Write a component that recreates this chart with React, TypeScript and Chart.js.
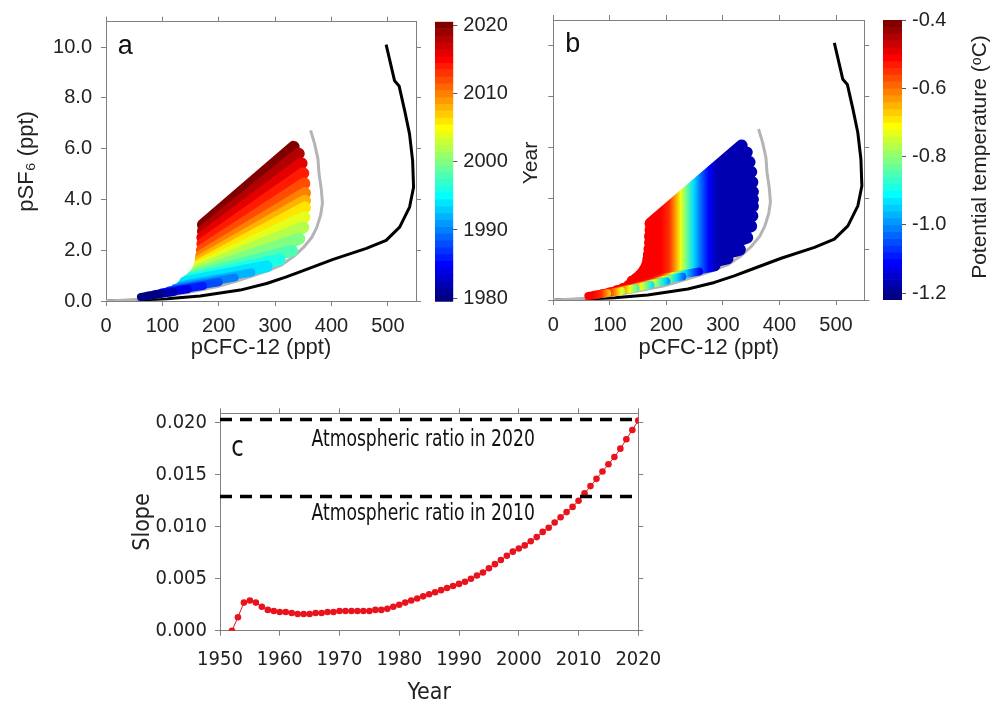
import React, { useEffect, useRef } from 'react';
import { Chart, registerables } from 'chart.js';

Chart.register(...registerables);

// ---------------- data ----------------
// Panels a & b: the sample cloud, drawn as one band per year (start and end of each band, pCFC-12 ppt / pSF6 ppt)
const bandYears = [1980, 1982, 1984, 1986, 1988, 1990, 1992, 1994, 1996, 1998, 2000, 2002, 2004, 2006, 2008, 2010, 2012, 2014, 2016, 2018, 2020];
const bandStartCFC = [62, 73, 86, 99, 112, 123, 132, 140, 147, 153, 158, 162, 165, 167, 168, 169, 170, 171, 171, 172, 172];
const bandStartSF6 = [0.16, 0.21, 0.27, 0.34, 0.42, 0.51, 0.62, 0.73, 0.84, 0.95, 1.07, 1.2, 1.33, 1.45, 1.6, 1.78, 2.0, 2.25, 2.5, 2.75, 3.0];
const bandEndCFC = [95, 120, 145, 172, 200, 228, 258, 285, 308, 330, 343, 350, 352, 353, 353, 353, 352, 350, 347, 342, 333];
const bandEndSF6 = [0.27, 0.35, 0.46, 0.59, 0.74, 0.92, 1.12, 1.36, 1.63, 1.98, 2.45, 2.9, 3.3, 3.68, 3.95, 4.25, 4.63, 5.03, 5.42, 5.8, 6.07];

// Panel b: potential temperature (°C) across the cloud, by pCFC-12 position (shifted for the deepest bands)
const tempAtCFC = [190, 205, 215, 225, 235, 248, 262, 275, 290];
const tempValues = [-0.5, -0.54, -0.62, -0.72, -0.82, -0.94, -1.04, -1.12, -1.18];
const bandTempShift = [-120, -105, -90, -70, -50, -30, -15, 0, 0, 0, 0, 0, 0, 0, 0, 0, 0, 0, 0, 0, 0];

// Grey curve
const grayCFC = [0, 49, 108, 137, 167, 196, 226, 255, 285, 310, 332, 350, 365, 374, 381, 384, 382, 378, 376, 370, 363];
const graySF6 = [0, 0.05, 0.2, 0.3, 0.43, 0.56, 0.75, 0.95, 1.18, 1.4, 1.74, 2.1, 2.5, 2.9, 3.4, 3.85, 4.4, 5.0, 5.6, 6.2, 6.72];

// Black curve (atmospheric history)
const atmCFC = [3, 49, 108, 167, 238, 285, 320, 344, 403, 462, 497, 521, 538.6, 545.7, 544, 538.5, 530, 520, 512, 497];
const atmSF6 = [0, 0.03, 0.09, 0.2, 0.43, 0.69, 0.95, 1.15, 1.64, 2.07, 2.39, 2.91, 3.7, 4.48, 5.53, 6.58, 7.49, 8.47, 8.67, 10.1];

// Panel c
const slopeYears = [1952, 1953, 1954, 1955, 1956, 1957, 1958, 1959, 1960, 1961, 1962, 1963, 1964, 1965, 1966, 1967, 1968, 1969, 1970, 1971, 1972, 1973, 1974, 1975, 1976, 1977, 1978, 1979, 1980, 1981, 1982, 1983, 1984, 1985, 1986, 1987, 1988, 1989, 1990, 1991, 1992, 1993, 1994, 1995, 1996, 1997, 1998, 1999, 2000, 2001, 2002, 2003, 2004, 2005, 2006, 2007, 2008, 2009, 2010, 2011, 2012, 2013, 2014, 2015, 2016, 2017, 2018, 2019, 2020];
const slopeValues = [0.0, 0.0013, 0.0027, 0.0029, 0.0027, 0.0023, 0.002, 0.0019, 0.0018, 0.0018, 0.0017, 0.0016, 0.0016, 0.0016, 0.0017, 0.0017, 0.0018, 0.0018, 0.0019, 0.0019, 0.0019, 0.0019, 0.0019, 0.0019, 0.002, 0.002, 0.0021, 0.0023, 0.0025, 0.0027, 0.0029, 0.0031, 0.0033, 0.0035, 0.0037, 0.0039, 0.0041, 0.0043, 0.0045, 0.0047, 0.005, 0.0053, 0.0056, 0.006, 0.0064, 0.0068, 0.0072, 0.0076, 0.0079, 0.0082, 0.0086, 0.009, 0.0095, 0.0099, 0.0104, 0.0109, 0.0114, 0.0119, 0.0125, 0.0132, 0.0139, 0.0146, 0.0153, 0.016, 0.0167, 0.0175, 0.0184, 0.0193, 0.0202];
const ratioLabels = ['Atmospheric ratio in 2020', 'Atmospheric ratio in 2010'];
const ratioValues = [0.0203, 0.0129];

// Ticks
const cfcTicks = [0, 100, 200, 300, 400, 500];
const sf6Ticks = [0, 2, 4, 6, 8, 10];
const yearBarTicks = [1980, 1990, 2000, 2010, 2020];
const tempBarTicks = [-1.2, -1.0, -0.8, -0.6, -0.4];
const slopeXTicks = [1950, 1960, 1970, 1980, 1990, 2000, 2010, 2020];
const slopeYTicks = [0, 0.005, 0.01, 0.015, 0.02];

// ---------------- style ----------------
const FONT = "'Liberation Sans', Arial, Helvetica, sans-serif";
const NARROW = "'Liberation Sans Narrow', 'Arial Narrow', 'DejaVu Sans Condensed', 'Liberation Sans', Arial, sans-serif";
const TEXT = '#222222';
const AXIS = '#808080';
const RED = '#e8131c';
const T_MIN = -1.22;
const T_MAX = -0.4;

function jet(t: number): string {
  const c = (v: number) => Math.max(0, Math.min(1, v));
  const r = c(1.5 - Math.abs(4 * t - 3));
  const g = c(1.5 - Math.abs(4 * t - 2));
  const b = c(1.5 - Math.abs(4 * t - 1));
  return `rgb(${Math.round(r * 255)},${Math.round(g * 255)},${Math.round(b * 255)})`;
}
const yearColor = (y: number) => jet((y - 1980) / 40);
const tempColor = (T: number) => jet((T - T_MIN) / (T_MAX - T_MIN));

const setTicks = (vals: number[]) => (s: any) => {
  s.ticks = vals.map((v) => ({ value: v }));
};

function makeAnnot(items: any[]) {
  return {
    id: 'annot',
    afterDatasetsDraw(chart: any) {
      const ctx = chart.ctx;
      items.forEach((it) => {
        ctx.save();
        ctx.font = it.font;
        ctx.fillStyle = it.color || TEXT;
        ctx.textAlign = it.align || 'left';
        ctx.textBaseline = it.baseline || 'alphabetic';
        if (it.rotate) {
          ctx.translate(it.px, it.py);
          ctx.rotate(-Math.PI / 2);
          ctx.fillText(it.text, 0, 0);
        } else {
          const x = chart.scales.x.getPixelForValue(it.x);
          const y = chart.scales.y.getPixelForValue(it.y);
          ctx.translate(x, y);
          ctx.scale(it.sx || 1, 1);
          ctx.fillText(it.text, 0, 0);
        }
        ctx.restore();
      });
    },
  };
}

function edgeAxis(pos: string, min: number, max: number, ticks: number[], size: number, extra: any = {}) {
  const horizontal = pos === 'top' || pos === 'bottom';
  return {
    type: 'linear',
    position: pos,
    min,
    max,
    afterBuildTicks: setTicks(ticks),
    afterFit: (s: any) => {
      if (horizontal) s.height = size;
      else s.width = size;
    },
    grid: { display: true, drawOnChartArea: false, drawTicks: true, tickLength: 5, color: AXIS, lineWidth: 1 },
    border: { display: true, color: AXIS, width: 1 },
    ticks: { display: false, autoSkip: false, maxRotation: 0 },
    ...extra,
  };
}

function tempGradient(shift: number) {
  return (ctx: any) => {
    const chart = ctx.chart;
    const area = chart.chartArea;
    const xs = chart.scales && chart.scales.x;
    if (!area || !xs) return tempColor(-1.2);
    const w = area.right - area.left;
    const g = chart.ctx.createLinearGradient(area.left, 0, area.right, 0);
    let last = 0;
    tempAtCFC.forEach((x, k) => {
      let off = (xs.getPixelForValue(x + shift) - area.left) / w;
      off = Math.min(1, Math.max(last, off));
      last = off;
      g.addColorStop(off, tempColor(tempValues[k]));
    });
    return g;
  };
}

function cloudConfig(kind: 'a' | 'b'): any {
  const datasets: any[] = bandYears.map((yr, i) => ({
    data: [
      { x: bandStartCFC[i], y: bandStartSF6[i] },
      { x: bandEndCFC[i], y: bandEndSF6[i] },
    ],
    showLine: true,
    borderWidth: yr < 1994 ? 8 : 12,
    borderCapStyle: 'round',
    borderJoinStyle: 'round',
    pointRadius: 0,
    borderColor: kind === 'a' ? yearColor(yr) : tempGradient(bandTempShift[i]),
  }));
  datasets.push({
    data: grayCFC.map((x, i) => ({ x, y: graySF6[i] })),
    showLine: true,
    borderColor: '#b4b4b4',
    borderWidth: 3,
    pointRadius: 0,
    borderJoinStyle: 'round',
  });
  datasets.push({
    data: atmCFC.map((x, i) => ({ x, y: atmSF6[i] })),
    showLine: true,
    borderColor: '#000000',
    borderWidth: 3,
    pointRadius: 0,
    borderJoinStyle: 'round',
  });
  const isA = kind === 'a';
  const geo = isA
    ? { left: 106, right: 14, top: 21.7, bottom: 69 }
    : { left: 53.3, right: 10.7, top: 20, bottom: 70 };
  const tickFont = { family: FONT, size: 20 };
  const titleFont = { family: FONT, size: 22 };
  return {
    type: 'scatter',
    data: { datasets },
    plugins: [
      makeAnnot([
        { text: isA ? 'a' : 'b', x: 21, y: 9.73, font: `27px ${FONT}`, color: '#111' },
      ]),
    ],
    options: {
      animation: false,
      responsive: false,
      maintainAspectRatio: false,
      events: [],
      layout: { padding: 0 },
      plugins: { legend: { display: false }, tooltip: { enabled: false } },
      scales: {
        x: edgeAxis('bottom', 0, 550, cfcTicks, geo.bottom, {
          ticks: { display: true, autoSkip: false, maxRotation: 0, padding: 8, color: TEXT, font: tickFont, callback: (v: any) => String(v) },
          title: { display: true, text: 'pCFC-12 (ppt)', color: TEXT, font: titleFont, padding: { top: 0, bottom: 9 } },
        }),
        y: edgeAxis('left', 0, 11, sf6Ticks, geo.left, isA
          ? {
              ticks: { display: true, autoSkip: false, padding: 9, color: TEXT, font: tickFont, callback: (v: any) => Number(v).toFixed(1) },
              title: { display: true, text: 'pSF₆ (ppt)', color: TEXT, font: titleFont, padding: { top: 14, bottom: 0 } },
            }
          : {}),
        x2: edgeAxis('top', 0, 550, cfcTicks, geo.top),
        y2: edgeAxis('right', 0, 11, sf6Ticks, geo.right),
      },
    },
  };
}

function colorbarConfig(kind: 'a' | 'b'): any {
  const isA = kind === 'a';
  const levels = Array.from({ length: 41 }, (_, k) => k);
  const lo = isA ? 1979.5 : T_MIN;
  const step = isA ? 1 : (T_MAX - T_MIN) / 41;
  const data = levels.map((k) => ({ x: 'bar', y: [lo + k * step, lo + (k + 1) * step] }));
  const colors = levels.map((k) => jet(k / 40));
  const geo = isA
    ? { left: 15, right: 96.7, top: 21.7, bottom: 68.3 }
    : { left: 13, right: 92, top: 20, bottom: 70 };
  return {
    type: 'bar',
    data: {
      labels: ['bar'],
      datasets: [{ data, backgroundColor: colors, borderWidth: 0, barPercentage: 1, categoryPercentage: 1 }],
    },
    plugins: [
      makeAnnot([
        isA
          ? { text: 'Year', rotate: true, px: 111.7, py: 163, align: 'center', baseline: 'middle', font: `21px ${FONT}` }
          : { text: 'Potential temperature (ᵒC)', rotate: true, px: 110, py: 157, align: 'center', baseline: 'middle', font: `21px ${FONT}` },
      ]),
    ],
    options: {
      animation: false,
      responsive: false,
      maintainAspectRatio: false,
      events: [],
      layout: { padding: { left: geo.left, top: geo.top, bottom: geo.bottom, right: 0 } },
      plugins: { legend: { display: false }, tooltip: { enabled: false } },
      scales: {
        x: { display: false },
        y: {
          type: 'linear',
          position: 'right',
          min: isA ? 1979.5 : T_MIN,
          max: isA ? 2020.5 : T_MAX,
          afterBuildTicks: setTicks(isA ? yearBarTicks : tempBarTicks),
          afterFit: (s: any) => {
            s.width = geo.right;
          },
          grid: { display: true, drawOnChartArea: false, tickLength: 4, color: '#555' },
          border: { display: false },
          ticks: {
            autoSkip: false,
            padding: 6,
            color: TEXT,
            font: { family: FONT, size: 20 },
            callback: (v: any) => (isA ? String(v) : Number(v).toFixed(1)),
          },
        },
      },
    },
  };
}

function slopeConfig(): any {
  const tickFont = { family: NARROW, size: 20 };
  const titleFont = { family: NARROW, size: 23 };
  const datasets: any[] = ratioValues.map((v) => ({
    data: [
      { x: 1950, y: v },
      { x: 2020, y: v },
    ],
    showLine: true,
    borderColor: '#000',
    borderWidth: 3.5,
    borderDash: [12, 8],
    pointRadius: 0,
  }));
  datasets.push({
    data: slopeYears.map((x, i) => ({ x, y: slopeValues[i] })),
    showLine: true,
    borderColor: RED,
    borderWidth: 1,
    pointRadius: 3.3,
    pointBackgroundColor: RED,
    pointBorderColor: RED,
    pointBorderWidth: 0,
  });
  return {
    type: 'scatter',
    data: { datasets },
    plugins: [
      makeAnnot([
        { text: ratioLabels[0], x: 1984, y: 0.0178, align: 'center', sx: 0.83, font: `23px ${NARROW}`, color: '#111' },
        { text: ratioLabels[1], x: 1984, y: 0.01065, align: 'center', sx: 0.83, font: `23px ${NARROW}`, color: '#111' },
        { text: 'c', x: 1951.9, y: 0.0168, sx: 0.9, font: `28px ${NARROW}`, color: '#111' },
      ]),
    ],
    options: {
      animation: false,
      responsive: false,
      maintainAspectRatio: false,
      events: [],
      layout: { padding: 0 },
      plugins: { legend: { display: false }, tooltip: { enabled: false } },
      scales: {
        x: edgeAxis('bottom', 1950, 2020, slopeXTicks, 79.3, {
          ticks: { display: true, autoSkip: false, maxRotation: 0, padding: 12, color: TEXT, font: tickFont, callback: (v: any) => String(v) },
          title: { display: true, text: 'Year', color: TEXT, font: titleFont, padding: { top: 0, bottom: 3 } },
        }),
        y: edgeAxis('left', 0, 0.0209, slopeYTicks, 100, {
          ticks: { display: true, autoSkip: false, padding: 8, color: TEXT, font: tickFont, callback: (v: any) => Number(v).toFixed(3) },
          title: { display: true, text: 'Slope', color: TEXT, font: titleFont, padding: { top: 9, bottom: 0 } },
        }),
        x2: edgeAxis('top', 1950, 2020, slopeXTicks, 33.3),
        y2: edgeAxis('right', 0, 0.0209, slopeYTicks, 41.7),
      },
    },
  };
}

const canvases = [
  { key: 'a', left: 0, top: 0, width: 430, height: 370 },
  { key: 'cbA', left: 420, top: 0, width: 130, height: 370 },
  { key: 'b', left: 500, top: 0, width: 375, height: 370 },
  { key: 'cbB', left: 870, top: 0, width: 124, height: 370 },
  { key: 'c', left: 120, top: 380, width: 560, height: 330 },
];

export default function App() {
  const refs = useRef<Record<string, HTMLCanvasElement | null>>({});
  useEffect(() => {
    const make: Record<string, () => any> = {
      a: () => cloudConfig('a'),
      cbA: () => colorbarConfig('a'),
      b: () => cloudConfig('b'),
      cbB: () => colorbarConfig('b'),
      c: () => slopeConfig(),
    };
    const charts = canvases.map((c) => new Chart(refs.current[c.key] as HTMLCanvasElement, make[c.key]()));
    return () => charts.forEach((ch) => ch.destroy());
  }, []);
  return (
    <div style={{ position: 'absolute', left: 0, top: 0, width: 994, height: 701, overflow: 'hidden', background: '#ffffff' }}>
      {canvases.map((c) => (
        <canvas
          key={c.key}
          ref={(el) => {
            refs.current[c.key] = el;
          }}
          width={c.width}
          height={c.height}
          style={{ position: 'absolute', left: c.left, top: c.top, width: c.width, height: c.height }}
        />
      ))}
    </div>
  );
}
